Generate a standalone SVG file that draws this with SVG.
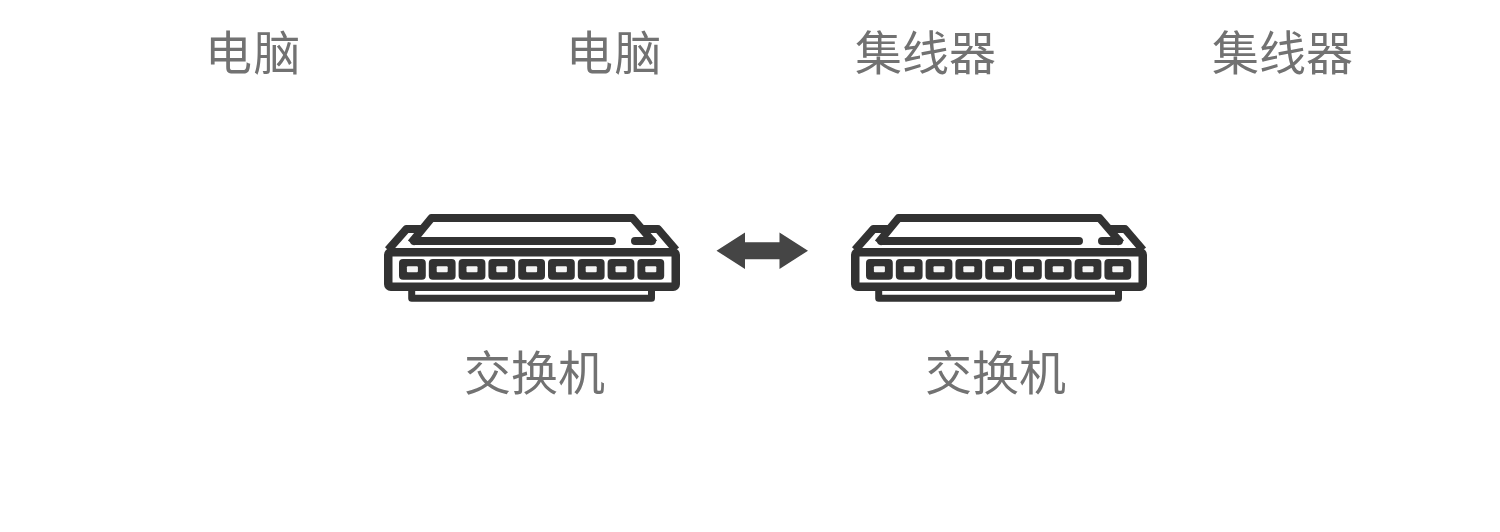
<svg xmlns="http://www.w3.org/2000/svg" width="1500" height="532" viewBox="0 0 1500 532">
<style>
.t{font-family:"Noto Sans CJK SC","Liberation Sans",sans-serif;font-size:47px;fill:#727272;filter:url(#soft)}
.w{letter-spacing:1.500px}
.s{fill:none;stroke:#333;stroke-linejoin:round}
.p{fill:#333}
.h{fill:#f4f4f4}
</style>
<defs>
<filter id="soft" x="-5%" y="-5%" width="110%" height="110%"><feGaussianBlur stdDeviation="0.450"/></filter>
<g id="port"><rect class="p" x="0" y="259" width="26.800" height="20.800" rx="4"/><rect class="h" x="7.900" y="266.300" width="11" height="6" rx="1"/></g>
<g id="sw" filter="url(#soft)">
<path class="s" stroke-width="8" d="M388 250L406.500 229H424M676 250L658 229H640"/>
<path class="s" stroke-width="8" d="M411 243L431.500 218H632.500L654 243"/>
<path class="s" stroke-width="8" stroke-linecap="round" d="M414 241H612M635 241H652"/>
<rect class="s" stroke-width="8.500" x="388.250" y="252.250" width="287.500" height="34.500" rx="2.500"/>
<path class="s" stroke-width="7" d="M411.700 290V298.300H651.500V290"/>
<use href="#port" x="399"/><use href="#port" x="428.800"/><use href="#port" x="458.600"/>
<use href="#port" x="488.400"/><use href="#port" x="518.200"/><use href="#port" x="548"/>
<use href="#port" x="577.800"/><use href="#port" x="607.600"/><use href="#port" x="637.400"/>
</g>
</defs>
<rect width="1500" height="532" fill="#fff"/>
<g id="pc-1"><text class="t w" x="205" y="70">电脑</text></g>
<g id="pc-2"><text class="t w" x="566" y="70">电脑</text></g>
<g id="hub-1"><text class="t" x="855" y="70">集线器</text></g>
<g id="hub-2"><text class="t" x="1212" y="70">集线器</text></g>
<g id="switch-1"><use href="#sw"/><text class="t" x="464" y="390">交换机</text></g>
<g id="switch-2"><use href="#sw" transform="translate(467 0)"/><text class="t" x="925" y="390">交换机</text></g>
<g id="connectors"><polygon fill="#444" filter="url(#soft)" points="716.500,250.700 745,232.500 745,242.300 779.500,242.300 779.500,232.500 808,250.700 779.500,269 779.500,259.300 745,259.300 745,269"/></g>
</svg>
